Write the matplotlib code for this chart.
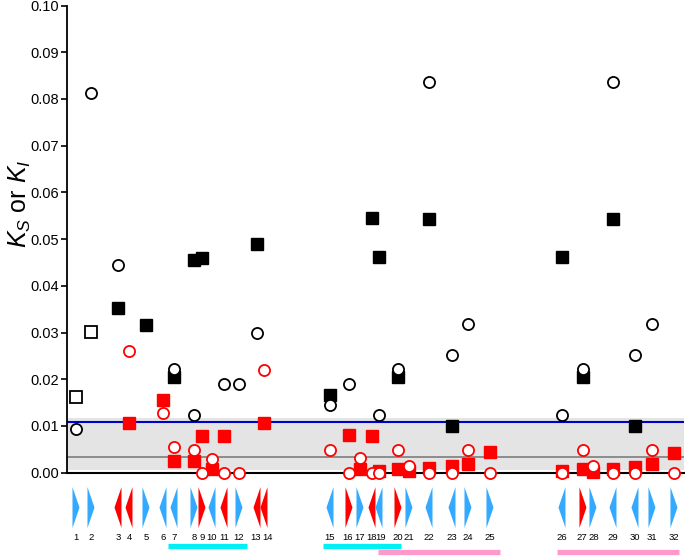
import numpy as np
import matplotlib
matplotlib.use('Agg')
import matplotlib.pyplot as plt
from matplotlib.patches import Polygon

plt.rcParams['font.family'] = ['Liberation Sans', 'DejaVu Sans']
plt.rcParams['mathtext.fontset'] = 'custom'
plt.rcParams['mathtext.rm'] = 'Liberation Sans'
plt.rcParams['mathtext.it'] = 'Liberation Sans:italic'

# gene positions along the region (arbitrary units) and orientation
gene_pos = [9, 24, 51, 62, 79, 96, 107, 127, 135, 145, 157, 172, 190, 197,
            263, 282, 293, 305, 312, 331, 342, 362, 385, 401, 423,
            495, 516, 526, 546, 568, 585, 607]
gene_strand = [1, 1, -1, -1, 1, -1, -1, 1, 1, -1, -1, 1, -1, -1,
               -1, 1, 1, -1, -1, 1, 1, -1, -1, 1, 1,
               -1, 1, 1, -1, -1, 1, 1]
gene_group = ['b', 'b', 'r', 'r', 'b', 'b', 'b', 'b', 'r', 'b', 'r', 'b', 'r', 'r',
              'b', 'r', 'b', 'r', 'b', 'r', 'b', 'b', 'b', 'b', 'b',
              'b', 'r', 'b', 'b', 'b', 'b', 'b']

# black filled squares
ks_genes = [3, 5, 7, 8, 9, 13, 15, 18, 19, 20, 22, 23, 26, 27, 29, 30]
ks_vals = [0.0353, 0.0317, 0.0204, 0.0456, 0.0459, 0.0489, 0.0166, 0.0545,
           0.0461, 0.0204, 0.0544, 0.0099, 0.0461, 0.0204, 0.0544, 0.0099]
# black open squares
ks2_genes = [1, 2]
ks2_vals = [0.0162, 0.0302]
# black open circles
ki_genes = [1, 2, 3, 7, 8, 11, 12, 13, 15, 16, 19, 20, 22, 23, 24, 26, 27, 29, 30, 31]
ki_vals = [0.0093, 0.0812, 0.0445, 0.0221, 0.0124, 0.0189, 0.0189, 0.0298, 0.0145,
           0.0189, 0.0124, 0.0221, 0.0836, 0.0252, 0.0318, 0.0124, 0.0221, 0.0836,
           0.0252, 0.0318]
# red filled squares
rks_genes = [4, 6, 7, 8, 9, 10, 11, 14, 16, 17, 18, 19, 20, 21, 22, 23, 24, 25,
             26, 27, 28, 29, 30, 31, 32]
rks_vals = [0.0107, 0.0155, 0.0024, 0.0024, 0.0079, 0.0009, 0.0079, 0.0106, 0.0080,
            0.0009, 0.0078, 0.0004, 0.0008, 0.0003, 0.0010, 0.0015, 0.0019, 0.0044,
            0.0004, 0.0008, 0.0002, 0.0009, 0.0013, 0.0018, 0.0043]
# red open circles
rki_genes = [4, 6, 7, 8, 9, 10, 11, 12, 14, 15, 16, 17, 18, 19, 20, 21, 22, 23, 24,
             25, 26, 27, 28, 29, 30, 31, 32]
rki_vals = [0.0261, 0.0128, 0.0055, 0.0048, 0, 0.0030, 0, 0, 0.0220, 0.0049, 0,
            0.0031, 0, 0, 0.0049, 0.0015, 0, 0, 0.0049, 0, 0, 0.0049, 0.0015, 0, 0,
            0.0049, 0]

band_lo, band_hi = 0.0006, 0.0117
median_line = 0.0034
blue_line = 0.0109

cyan_bars = [(101, 180), (256, 334)]
pink_bars = [(311, 433), (490, 612)]

xmax = 617

# small shifts so crowded gene numbers sit side by side
label_nudge = {13: -1, 14: 4, 16: -1, 19: 2, 20: 0, 27: -1, 28: 1}


def px(genes):
    return [gene_pos[g - 1] for g in genes]


fig = plt.figure(figsize=(6.85, 5.56), dpi=100)
ax = fig.add_axes([0.0978, 0.1498, 0.9007, 0.8403])

ax.axhspan(band_lo, band_hi, color='#e4e4e4', zorder=0, lw=0)
ax.axhline(median_line, color='#8c8c8c', lw=1.4, zorder=1)
ax.axhline(blue_line, color='#0000cc', lw=1.5, zorder=1)

ax.plot(px(ks_genes), ks_vals, 's', color='black', ms=8, ls='none', zorder=3, clip_on=False)
ax.plot(px(ks2_genes), ks2_vals, 's', mfc='white', mec='black', mew=1.3, ms=8,
        ls='none', zorder=3, clip_on=False)
ax.plot(px(ki_genes), ki_vals, 'o', mfc='white', mec='black', mew=1.3, ms=8,
        ls='none', zorder=4, clip_on=False)
ax.plot(px(rks_genes), rks_vals, 's', color='#ff0000', ms=8, ls='none', zorder=3, clip_on=False)
ax.plot(px(rki_genes), rki_vals, 'o', mfc='white', mec='#ff0000', mew=1.3, ms=8,
        ls='none', zorder=5, clip_on=False)

ax.set_xlim(0, xmax)
ax.set_ylim(0, 0.10)
ax.set_yticks(np.arange(0, 0.101, 0.01))
ax.set_yticklabels(['%.2f' % v for v in np.arange(0, 0.101, 0.01)], fontsize=10.5)
ax.set_xticks([])
ax.spines['top'].set_visible(False)
ax.spines['right'].set_visible(False)
ax.spines['left'].set_linewidth(1.3)
ax.spines['bottom'].set_linewidth(1.5)
ax.tick_params(axis='y', direction='out', length=4, width=1.2, pad=1.5)
ax.set_ylabel(r'$K_S$ or $K_I$', fontsize=18, va='center')
ax.yaxis.set_label_coords(-0.077, 0.575)

# gene arrows below the plot
ax2 = fig.add_axes([0.0978, 0.0, 0.9007, 0.144], sharex=ax)
ax2.set_ylim(0, 1)
ax2.axis('off')
hw = 3.5
for x, s, g in zip(gene_pos, gene_strand, gene_group):
    col = '#33aaff' if g == 'b' else '#ff0000'
    back = x - s * hw
    tip = x + s * hw
    tri = Polygon([(back, 0.86), (tip, 0.605), (back, 0.35)], closed=True,
                  facecolor=col, edgecolor='none')
    ax2.add_patch(tri)
for i, x in enumerate(gene_pos):
    ax2.text(x + label_nudge.get(i + 1, 0), 0.225, str(i + 1), ha='center', va='center',
             fontsize=6.8)
for a, b in cyan_bars:
    ax2.plot([a, b], [0.125, 0.125], color='#00f0f5', lw=3.8, solid_capstyle='butt')
for a, b in pink_bars:
    ax2.plot([a, b], [0.045, 0.045], color='#ff99cc', lw=3.8, solid_capstyle='butt')

fig.savefig('out.png', dpi=100)
